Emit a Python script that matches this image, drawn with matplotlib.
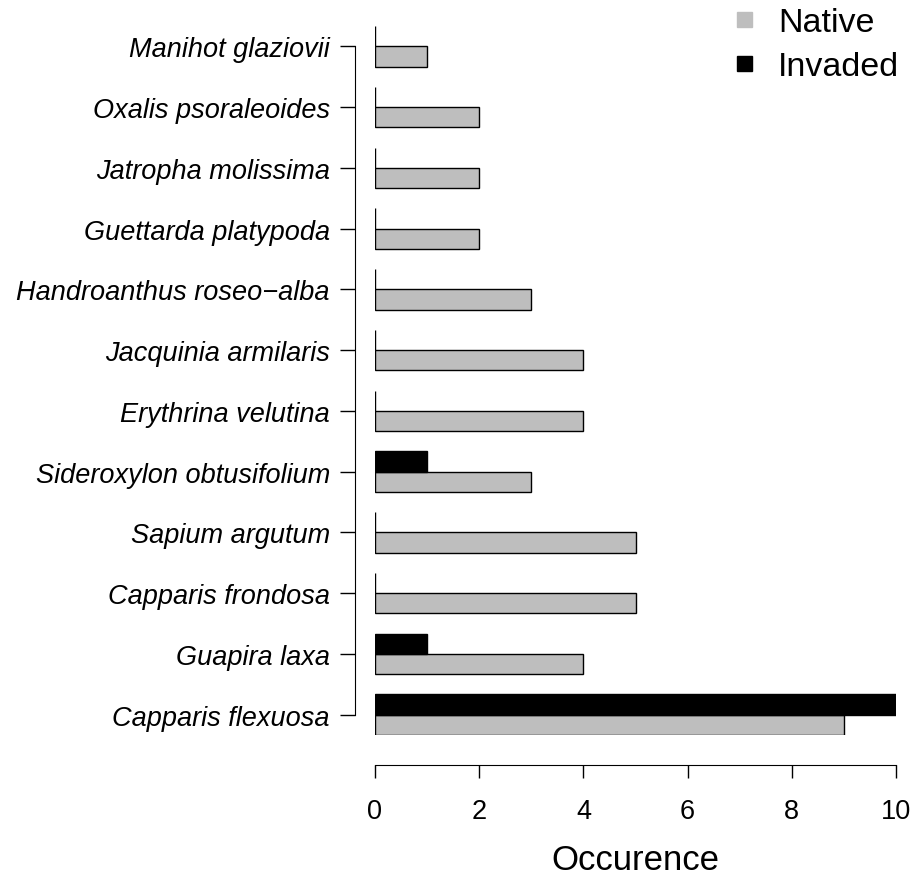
import numpy as np
from matplotlib import pyplot as plt
from matplotlib.lines import Line2D

plt.rcParams['font.family'] = ['Liberation Sans', 'DejaVu Sans']

# 数据 (从下到上)
species = ['Capparis flexuosa', 'Guapira laxa', 'Capparis frondosa', 'Sapium argutum',
           'Sideroxylon obtusifolium', 'Erythrina velutina', 'Jacquinia armilaris',
           'Handroanthus roseo\u2212alba', 'Guettarda platypoda', 'Jatropha molissima',
           'Oxalis psoraleoides', 'Manihot glaziovii']
native = [9, 4, 5, 5, 3, 4, 4, 3, 2, 2, 2, 1]
invaded = [10, 1, 0, 0, 1, 0, 0, 0, 0, 0, 0, 0]
x_ticks = [0, 2, 4, 6, 8, 10]

W, H, DPI = 918, 878, 100
fig = plt.figure(figsize=(W / DPI, H / DPI), dpi=DPI)

# 坐标区 (像素位置换算)
left, right, top, bottom = 375, 896, 27, 736
ax = fig.add_axes([left / W, (H - bottom) / H, (right - left) / W, (bottom - top) / H])

centers = np.arange(len(species)) * 3
ax.barh(centers - 0.5, native, height=1, color='#BEBEBE', edgecolor='black', linewidth=1)
ax.barh(centers + 0.5, invaded, height=1, color='black', edgecolor='black', linewidth=1)

ax.set_xlim(0, 10)
ax.set_ylim(-1, centers[-1] + 1)

for s in ['top', 'right']:
    ax.spines[s].set_visible(False)
ax.spines['left'].set_position(('outward', 20 * 72 / DPI))
ax.spines['bottom'].set_position(('outward', 30 * 72 / DPI))
ax.spines['left'].set_bounds(centers[0], centers[-1])
ax.spines['bottom'].set_bounds(0, 10)

ax.set_yticks(centers)
ax.set_yticklabels(species, fontsize=19.5, style='italic')
ax.set_xticks(x_ticks)
ax.set_xticklabels([str(t) for t in x_ticks], fontsize=19.5)
ax.tick_params(axis='y', length=11, width=1, pad=7)
ax.tick_params(axis='x', length=9.5, width=1, pad=14.3)

ax.set_xlabel('Occurence', fontsize=25, labelpad=14)

# 图例
handles = [Line2D([], [], marker='s', linestyle='none', markersize=10.8, color='#BEBEBE'),
           Line2D([], [], marker='s', linestyle='none', markersize=10.8, color='black')]
fig.legend(handles, ['Native', 'Invaded'], loc='upper right',
           bbox_to_anchor=(1 - 5 / W, 1 + 6 / H),
           frameon=False, fontsize=24.5, handletextpad=0.4, labelspacing=0.38,
           borderaxespad=0.0, handlelength=1.2)

plt.savefig('out.png', dpi=DPI)
